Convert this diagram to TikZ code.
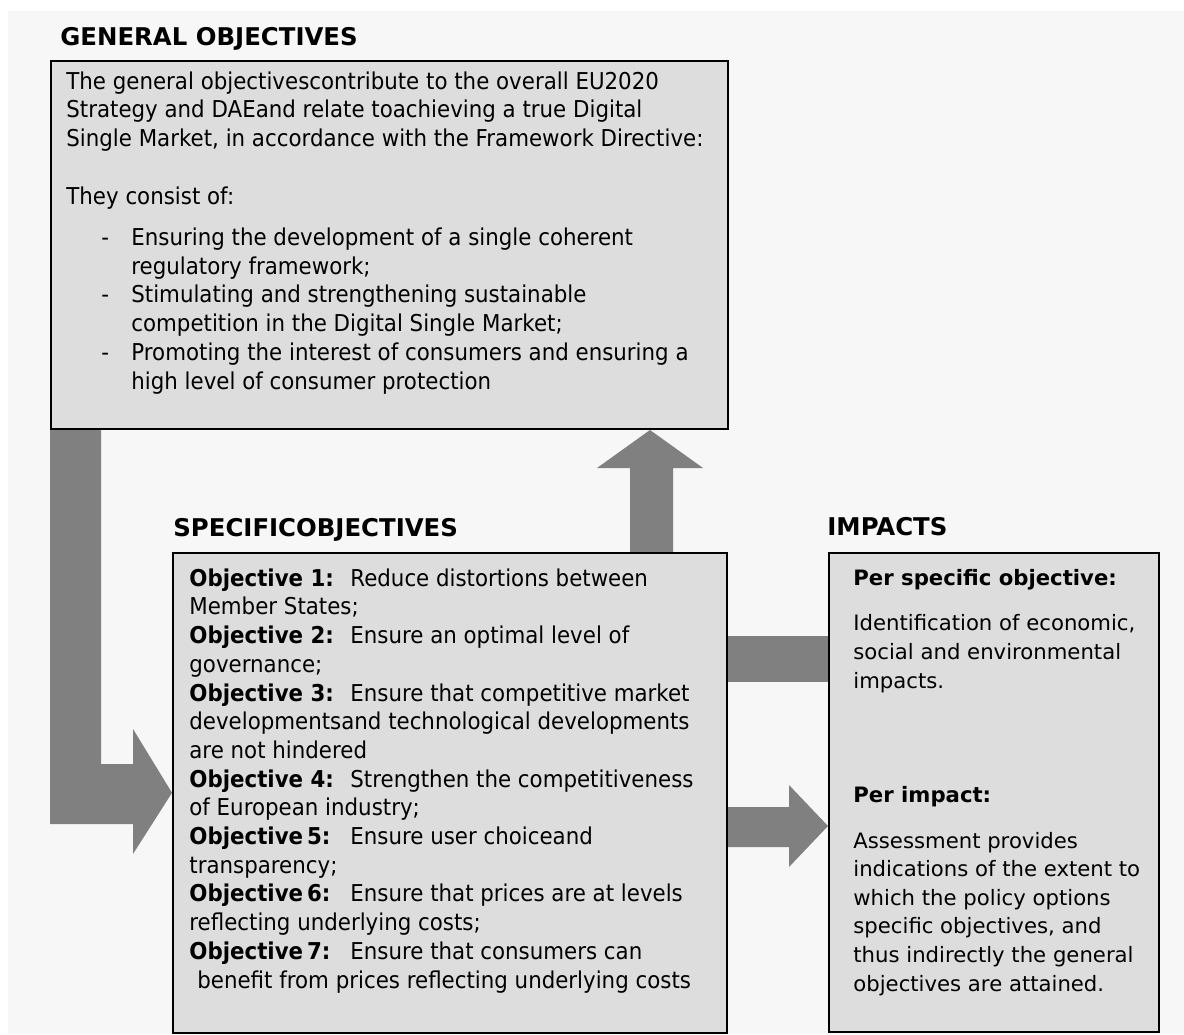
\documentclass[tikz,border=0pt]{standalone}
\usepackage{fontspec}
\usepackage{xcolor}
\setmainfont{DejaVu Sans}
\newfontfamily\tahfont{DejaVu Sans}[FakeStretch=0.92]
\usetikzlibrary{calc}
\definecolor{paper}{HTML}{F7F7F7}
\definecolor{boxgray}{HTML}{DDDDDD}
\definecolor{arrgray}{HTML}{808080}
\pgfdeclarelayer{paperlayer}
\pgfdeclarelayer{blocklayer}
\pgfsetlayers{paperlayer,blocklayer,main}
\newcommand{\objlabel}[1]{\makebox[80.5pt][l]{\bfseries #1}}
\newcommand{\dashitem}{\makebox[15pt][l]{-}}

\begin{document}
\begin{tikzpicture}[x=0.5pt, y=-0.5pt,
    Box/.style={rectangle, draw=black, line width=0.8pt, fill=boxgray, inner sep=0pt, anchor=north west},
    Ttl/.style={anchor=base west, inner sep=0pt, font=\fontsize{12.2pt}{14pt}\selectfont\bfseries},
    Txt/.style={anchor=base west, inner sep=0pt, align=left, font=\tahfont\fontsize{11.6pt}{14.35pt}\selectfont},
    ITxt/.style={anchor=base west, inner sep=0pt, align=left, font=\fontsize{10.6pt}{14.3pt}\selectfont},
    Blk/.style={fill=arrgray, draw=none}
]
\useasboundingbox (0,0) rectangle (1184,1034);
\begin{pgfonlayer}{paperlayer}
\fill[paper] (8,11) rectangle (1184,1034);
\end{pgfonlayer}

% === GENERAL OBJECTIVES ===
% (multi-line texts are placed by the baseline of their last line)
\node[Ttl] (genT) at (60,45) {GENERAL OBJECTIVES};
\node[Box, minimum width=338.5pt, minimum height=184pt] (gen) at (50,60) {};
\node[Txt] (genTxt) at (66,204) {The general objectivescontribute to the overall EU2020\\
    Strategy and DAEand relate toachieving a true Digital\\
    Single Market, in accordance with the Framework Directive:\\[14.35pt]
    They consist of:};
\node[Txt] (genList) at (101,389) {\dashitem Ensuring the development of a single coherent\\
    \hspace*{15pt}regulatory framework;\\
    \dashitem Stimulating and strengthening sustainable\\
    \hspace*{15pt}competition in the Digital Single Market;\\
    \dashitem Promoting the interest of consumers and ensuring a\\
    \hspace*{15pt}high level of consumer protection};

% === SPECIFIC OBJECTIVES ===
\node[Ttl] (specT) at (173,536) {SPECIFICOBJECTIVES};
\node[Box, minimum width=277pt, minimum height=240pt] (spec) at (172,552) {};
\node[Txt] (specTxt) at (189,988) {\objlabel{Objective 1:}Reduce distortions between\\
    Member States;\\
    \objlabel{Objective 2:}Ensure an optimal level of\\
    governance;\\
    \objlabel{Objective 3:}Ensure that competitive market\\
    developmentsand technological developments\\
    are not hindered\\
    \objlabel{Objective 4:}Strengthen the competitiveness\\
    of European industry;\\
    \objlabel{Objective\,5:}Ensure user choiceand\\
    transparency;\\
    \objlabel{Objective\,6:}Ensure that prices are at levels\\
    reflecting underlying costs;\\
    \objlabel{Objective\,7:}Ensure that consumers can\\
    \hspace*{4pt}benefit from prices reflecting underlying costs};

% === IMPACTS ===
\node[Ttl] (impT) at (827,535) {IMPACTS};
\node[Box, minimum width=165pt, minimum height=239.5pt] (imp) at (828,552) {};
\node[ITxt] (impA) at (853,585) {\textbf{Per specific objective:}};
\node[ITxt] (impB) at (853,688) {Identification of economic,\\
    social and environmental\\
    impacts.};
\node[ITxt] (impC) at (853,802) {\textbf{Per impact:}};
\node[ITxt] (impD) at (853,991) {Assessment provides\\
    indications of the extent to\\
    which the policy options\\
    specific objectives, and\\
    thus indirectly the general\\
    objectives are attained.};

% === BLOCK ARROWS ===
\begin{pgfonlayer}{blocklayer}
% general -> specific (L shape)
\fill[Blk] (gen.south west) -- (101,0 |- gen.south) -- (101,764) -- (133,764) -- (133,729)
    -- (spec.west) -- (133,854) -- (133,824) -- (50,824) -- cycle;
% specific -> general
\fill[Blk] (630,0 |- spec.north) -- (630,468) -- (597,468) -- (650,430) -- (703,468)
    -- (673,468) -- (673,0 |- spec.north) -- cycle;
% specific -- impacts (bar)
\fill[Blk] (spec.east |- 0,636) rectangle (imp.west |- 0,682);
% specific -> impacts
\fill[Blk] (spec.east |- 0,807) -- (789,807) -- (789,785) -- (828,826) -- (789,867)
    -- (789,847) -- (spec.east |- 0,847) -- cycle;
\end{pgfonlayer}

\end{tikzpicture}
\end{document}
